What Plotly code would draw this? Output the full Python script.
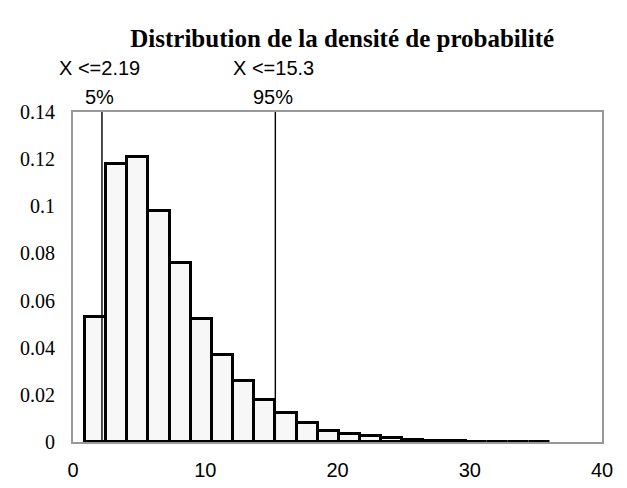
import plotly.graph_objects as go

bin_centers = [1.7, 3.3, 4.9, 6.5, 8.1, 9.7, 11.3, 12.9, 14.5, 16.1, 17.7,
               19.3, 20.9, 22.5, 24.1, 25.7, 27.3, 28.9, 30.5, 32.1, 33.7, 35.3]
densities = [0.053, 0.118, 0.121, 0.098, 0.076, 0.052, 0.037, 0.026, 0.0177, 0.0125, 0.008,
             0.0048, 0.0034, 0.0026, 0.0016, 0.001, 0.0005, 0.0003, 0.0002, 0.0002, 0.0001, 0.0001]
bin_width = 1.6
pct_values = [2.19, 15.3]
pct_labels = ["X <=2.19", "X <=15.3"]
pct_levels = ["5%", "95%"]

title = "Distribution de la densité de probabilité"

fig = go.Figure()
fig.add_trace(go.Bar(
    x=bin_centers, y=densities, width=[bin_width] * len(bin_centers),
    marker=dict(color="#f7f7f7", line=dict(color="black", width=3)),
    showlegend=False,
))

for v, lab, lvl in zip(pct_values, pct_labels, pct_levels):
    fig.add_shape(type="line", xref="x", yref="y", x0=v, x1=v, y0=0, y1=0.14,
                  line=dict(color="black", width=1.4))
    fig.add_annotation(x=v, xref="x", y=1.133, yref="paper", text=lab, showarrow=False,
                       xshift=-2,
                       font=dict(family="Liberation Sans, Arial", size=20, color="black"),
                       xanchor="center", yanchor="middle")
    fig.add_annotation(x=v, xref="x", y=1.045, yref="paper", text=lvl, showarrow=False,
                       xshift=-2,
                       font=dict(family="Liberation Sans, Arial", size=20, color="black"),
                       xanchor="center", yanchor="middle")

fig.update_layout(
    width=627, height=488,
    margin=dict(l=57, r=33, t=104, b=54),
    paper_bgcolor="white", plot_bgcolor="white",
    title=dict(text="<b>" + title + "</b>", x=0.533, xanchor="center", y=1 - 30 / 488,
               yanchor="middle", yref="container",
               font=dict(family="Liberation Serif, Times New Roman", size=25, color="black")),
    bargap=0,
    xaxis=dict(range=[0, 40], tickvals=[0, 10, 20, 30, 40], showgrid=False, zeroline=False,
               showline=True, linecolor="#999999", linewidth=2, mirror=True,
               ticks="outside", ticklen=9, tickcolor="white",
               tickfont=dict(family="Liberation Sans, Arial", size=20, color="black")),
    yaxis=dict(range=[0, 0.14], tickvals=[0, 0.02, 0.04, 0.06, 0.08, 0.1, 0.12, 0.14],
               ticktext=["0", "0.02", "0.04", "0.06", "0.08", "0.1", "0.12", "0.14"],
               showgrid=False, zeroline=False,
               showline=True, linecolor="#999999", linewidth=2, mirror=True,
               ticks="outside", ticklen=12, tickcolor="white",
               tickfont=dict(family="Liberation Serif, Times New Roman", size=20, color="black")),
)

fig.write_html("out.html")
